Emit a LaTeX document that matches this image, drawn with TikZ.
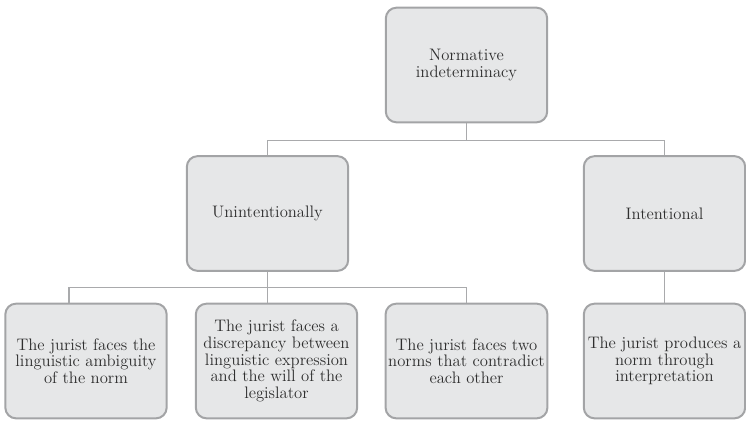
\documentclass[tikz,border=0pt]{standalone}
\usepackage{tikz}
\usetikzlibrary{positioning,calc}
\definecolor{boxfill}{HTML}{E6E7E8}
\definecolor{boxline}{HTML}{A3A4A6}
\definecolor{linkline}{HTML}{A9AAAC}
\definecolor{txt}{HTML}{2E2E2E}
\tikzset{
  box/.style={draw=boxline, line width=1.5pt, fill=boxfill, rounded corners=8pt,
    minimum width=121pt, minimum height=86pt, align=center, text=txt,
    font=\fontsize{12.5}{12.5}\selectfont, inner sep=2pt},
  link/.style={draw=linkline, line width=0.8pt}
}
\begin{document}
\begin{tikzpicture}[x=0.75pt,y=-0.75pt]
        \useasboundingbox (0,0) rectangle (746,421);
        % top level
        \node[box] (top) at (466.5,65) {Normative\\indeterminacy};
        % second level
        \node[box] (un) at (267.5,213.5) {Unintentionally};
        \node[box] (in) at (664.5,213.5) {Intentional};
        % third level
        \node[box] (b1) at (86,361) {The jurist faces the\\linguistic ambiguity\\of the norm};
        \node[box] (b2) at (276.5,361) {The jurist faces a\\discrepancy between\\linguistic expression\\and the will of the\\legislator};
        \node[box] (b3) at (466.5,361) {The jurist faces two\\norms that contradict\\each other};
        \node[box] (b4) at (664.5,361) {The jurist produces a\\norm through\\interpretation};
        % connectors
        \draw[link] (top.south) -- ++(0,17) coordinate (tb);
        \draw[link] (un.north) |- (tb) -| (in.north);
        \draw[link] (un.south) -- ++(0,16) coordinate (ub);
        \draw[link] ([xshift=-12.75pt]b1.north) |- (ub) -| (b3.north);
        \draw[link] (ub) -- (ub |- b2.north);
        \draw[link] (in.south) -- (b4.north);
    \end{tikzpicture}
\end{document}
